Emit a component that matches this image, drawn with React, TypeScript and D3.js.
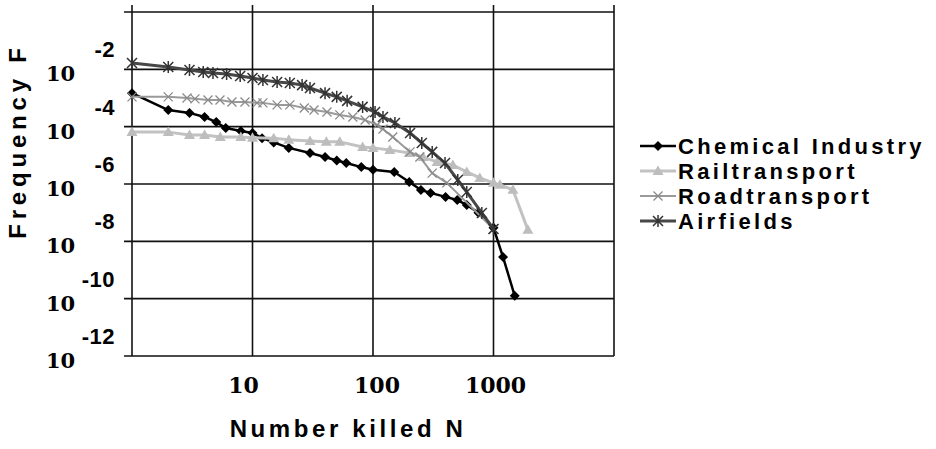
import * as d3 from 'd3';
import React from 'react';

// N (number killed) and log10 of frequency F
const chemicalN = [1, 2, 3, 4, 5, 6, 8, 10, 12, 15, 20, 30, 40, 50, 60, 80, 100, 150, 200, 250, 300, 400, 500, 600, 750, 1000, 1200, 1500];
const chemicalExp = [-2.83, -3.42, -3.52, -3.66, -3.84, -4.05, -4.15, -4.22, -4.4, -4.55, -4.74, -4.92, -5.06, -5.18, -5.27, -5.41, -5.5, -5.58, -5.93, -6.21, -6.31, -6.45, -6.56, -6.73, -7.0, -7.53, -8.55, -9.9];

const railN = [1, 2, 3, 4, 5.4, 8, 10, 15, 20, 30, 41, 53, 82, 100, 138, 200, 260, 340, 460, 600, 770, 1000, 1130, 1450, 1930];
const railExp = [-4.19, -4.19, -4.29, -4.29, -4.36, -4.36, -4.39, -4.4, -4.46, -4.5, -4.53, -4.53, -4.71, -4.74, -4.81, -4.92, -5.06, -5.23, -5.34, -5.58, -5.79, -5.96, -6.03, -6.2, -7.6];

const roadN = [1, 2, 2.86, 3.33, 4.27, 5.37, 6.75, 8.66, 10.9, 12.2, 16, 20.4, 26.9, 32.4, 41.5, 53, 68, 86, 108, 121, 146, 203, 245, 310, 410, 1000];
const roadExp = [-2.96, -2.96, -3.0, -3.03, -3.07, -3.07, -3.14, -3.14, -3.17, -3.17, -3.24, -3.24, -3.35, -3.42, -3.49, -3.59, -3.66, -3.77, -3.94, -4.08, -4.36, -4.88, -5.06, -5.62, -5.96, -7.57];

const airN = [1, 2, 3, 3.9, 4.7, 6.1, 7.9, 10, 12.2, 16, 20.4, 25.8, 30, 40, 50, 61, 82, 104, 121, 152, 203, 254, 310, 396, 505, 600, 800, 1000];
const airExp = [-1.78, -1.92, -2.02, -2.09, -2.13, -2.16, -2.23, -2.3, -2.37, -2.44, -2.48, -2.55, -2.65, -2.83, -2.96, -3.1, -3.31, -3.49, -3.66, -3.87, -4.22, -4.57, -4.88, -5.27, -5.86, -6.28, -7.01, -7.57];

const seriesNames = ['Chemical Industry', 'Railtransport', 'Roadtransport', 'Airfields'];
const xTicks = [1, 10, 100, 1000, 10000];
const xTickLabels = ['', '10', '100', '1000', ''];
const yExponents = [0, -2, -4, -6, -8, -10, -12];

const W = 936;
const H = 449;

const sans = "'Liberation Sans', Arial, sans-serif";
const serif = "'DejaVu Serif', 'Liberation Serif', serif";

const markers = {
  diamond: 'M0,-5L5,0L0,5L-5,0Z',
  triangle: 'M0,-5.5L5.5,4L-5.5,4Z',
  cross: 'M-4.5,-4.5L4.5,4.5M-4.5,4.5L4.5,-4.5',
  star: 'M-5,-5L5,5M-5,5L5,-5M0,-6L0,6',
};

const styles = [
  { line: '#000', width: 2.5, marker: markers.diamond, fill: '#000', stroke: 'none', sw: 0 },
  { line: '#c2c2c2', width: 3, marker: markers.triangle, fill: '#bdbdbd', stroke: 'none', sw: 0 },
  { line: '#9a9a9a', width: 2, marker: markers.cross, fill: 'none', stroke: '#8a8a8a', sw: 1.3 },
  { line: '#474747', width: 3, marker: markers.star, fill: 'none', stroke: '#333', sw: 1.5 },
];

export default function App() {
  const x = d3.scaleLog().domain([1, 10000]).range([132, 614]);
  const y = d3.scaleLog().domain([1, 1e-12]).range([12, 356]);

  const series = [
    chemicalN.map((n, i) => [n, Math.pow(10, chemicalExp[i])]),
    railN.map((n, i) => [n, Math.pow(10, railExp[i])]),
    roadN.map((n, i) => [n, Math.pow(10, roadExp[i])]),
    airN.map((n, i) => [n, Math.pow(10, airExp[i])]),
  ];

  const line = d3.line<number[]>().x(d => x(d[0])).y(d => y(d[1]));

  // small nudges so tick labels sit where the original puts them
  const xLabelShift = [0, -9, 4, 2, 0];

  return (
    <svg width={W} height={H} style={{ position: 'absolute', left: 0, top: 0, background: '#fff' }}>
      {/* grid */}
      {yExponents.map(e => (
        <line key={'h' + e} x1={124} x2={x(10000)} y1={y(Math.pow(10, e))} y2={y(Math.pow(10, e))} stroke="#111" strokeWidth={1.6} />
      ))}
      {xTicks.map(t => (
        <line key={'v' + t} x1={x(t)} x2={x(t)} y1={5} y2={y(1e-12)} stroke="#111" strokeWidth={1.6} />
      ))}

      {/* y tick labels: 10 with superscript exponent */}
      {yExponents.filter(e => e < 0).map(e => {
        const yy = y(Math.pow(10, e));
        return (
          <g key={'yl' + e}>
            <text x={46} y={yy + 12} fontFamily={serif} fontWeight="bold" fontSize={21}>10</text>
            <text x={115} y={yy - 12} textAnchor="end" fontFamily={sans} fontWeight="bold" fontSize={22} letterSpacing={0.5}>{String(e)}</text>
          </g>
        );
      })}

      {/* x tick labels */}
      {xTicks.map((t, i) => (
        <text key={'xl' + t} x={x(t) + xLabelShift[i]} y={393} textAnchor="middle" fontFamily={serif} fontWeight="bold" fontSize={22}>{xTickLabels[i]}</text>
      ))}

      {/* axis titles */}
      <text x={348} y={437} textAnchor="middle" fontFamily={sans} fontWeight="bold" fontSize={24} letterSpacing={3.6}>Number killed N</text>
      <text transform="translate(26,141) rotate(-90)" textAnchor="middle" fontFamily={sans} fontWeight="bold" fontSize={24} letterSpacing={4.8}>Frequency F</text>

      {/* series */}
      {series.map((s, k) => (
        <g key={'s' + k}>
          <path d={line(s) || ''} fill="none" stroke={styles[k].line} strokeWidth={styles[k].width} strokeLinejoin="round" />
          {s.map((d, i) => (
            <path key={i} d={styles[k].marker} transform={`translate(${x(d[0])},${y(d[1])})`} fill={styles[k].fill} stroke={styles[k].stroke} strokeWidth={styles[k].sw} />
          ))}
        </g>
      ))}

      {/* legend */}
      {seriesNames.map((name, k) => {
        const ly = 146 + k * 25;
        return (
          <g key={'lg' + k}>
            <line x1={640} x2={676} y1={ly} y2={ly} stroke={styles[k].line} strokeWidth={styles[k].width} />
            <path d={styles[k].marker} transform={`translate(658,${ly})`} fill={styles[k].fill} stroke={styles[k].stroke} strokeWidth={styles[k].sw} />
            <text x={678} y={ly + 8} fontFamily={sans} fontWeight="bold" fontSize={22} letterSpacing={3.3}>{name}</text>
          </g>
        );
      })}
    </svg>
  );
}
